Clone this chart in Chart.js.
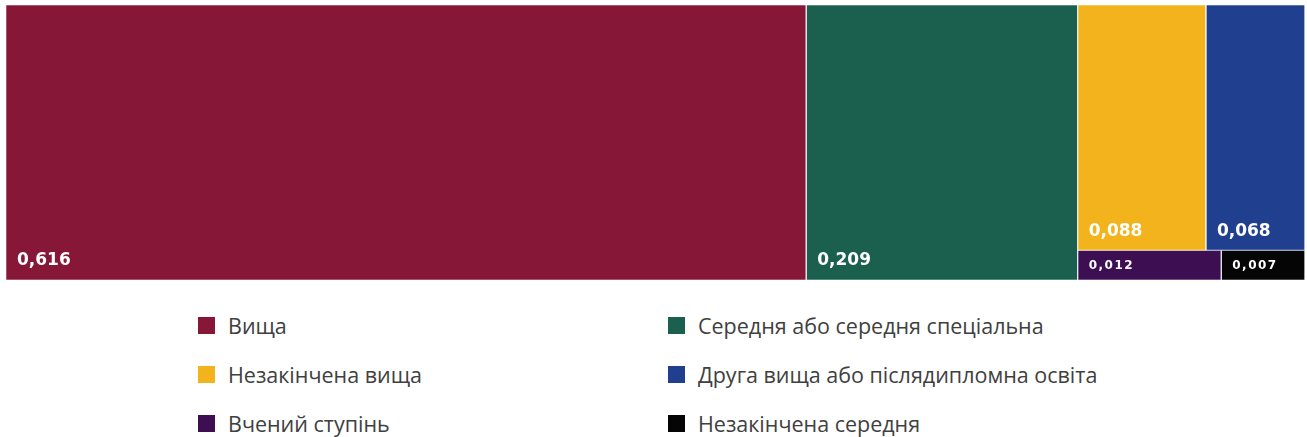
<!DOCTYPE html>
<html>
<head>
<meta charset="utf-8">
<script src="https://cdn.jsdelivr.net/npm/chart.js@4/dist/chart.umd.min.js"></script>
<style>
  html, body { margin: 0; padding: 0; background: #fff; }
  #wrap { position: relative; width: 1307px; height: 290px; }
  #legend {
    position: absolute; left: 198px; top: 301px;
    display: grid; grid-template-columns: 470px 470px; grid-auto-rows: 49px;
    font-family: "Open Sans", sans-serif; font-size: 21.5px; color: #404040;
  }
  .item { display: flex; align-items: center; }
  .box { width: 17px; height: 17px; margin-right: 13px; flex: none; }
</style>
</head>
<body>
<div id="wrap"><canvas id="c"></canvas></div>
<div id="legend"></div>
<script>
// частки за рівнем освіти
const labels = ['Вища', 'Середня або середня спеціальна', 'Незакінчена вища',
  'Друга вища або післядипломна освіта', 'Вчений ступінь', 'Незакінчена середня'];
const values = [0.616, 0.209, 0.088, 0.068, 0.012, 0.007];
const colors = ['#861737', '#1b5f4f', '#f2b31c', '#213f8f', '#3d0e51', '#050505'];

// вкладеність клітинок: верхній рівень ділиться по x, далі по y, далі знову по x
const groups = [[0], [1], [[2, 3], [4, 5]]];

const sum = n => Array.isArray(n) ? n.reduce((a, c) => a + sum(c), 0) : values[n];

// прямокутники в одиницях осей (0..1)
const rects = [];
function layout(node, x0, x1, y0, y1, horiz) {
  if (!Array.isArray(node)) { rects[node] = { x0, x1, y0, y1 }; return; }
  const tot = sum(node);
  let pos = horiz ? x0 : y1;
  node.forEach(ch => {
    const f = sum(ch) / tot;
    if (horiz) {
      const w = (x1 - x0) * f;
      layout(ch, pos, pos + w, y0, y1, false); pos += w;
    } else {
      const h = (y1 - y0) * f;
      layout(ch, x0, x1, pos - h, pos, true); pos -= h;
    }
  });
}
layout(groups, 0, 1, 0, 1, true);

const datasets = values.map((v, i) => {
  const r = rects[i];
  return {
    label: labels[i],
    data: [{ x: r.x0, y: r.y0 }, { x: r.x0, y: r.y1 }, { x: r.x1, y: r.y1 }, { x: r.x1, y: r.y0 }, { x: r.x0, y: r.y0 }],
    showLine: true, fill: 'shape', tension: 0,
    backgroundColor: colors[i], borderColor: 'rgba(255,255,255,0.55)', borderWidth: 1,
    pointRadius: 0, pointHoverRadius: 0,
  };
});

const valueLabels = {
  id: 'valueLabels',
  afterDatasetsDraw(chart) {
    const { ctx, scales: { x, y } } = chart;
    ctx.save();
    ctx.fillStyle = '#fff';
    ctx.textBaseline = 'middle';
    values.forEach((v, i) => {
      const r = rects[i];
      const left = x.getPixelForValue(r.x0), bottom = y.getPixelForValue(r.y0), top = y.getPixelForValue(r.y1);
      const h = bottom - top;
      const small = h < 40;
      ctx.font = (small ? 'bold 12px' : 'bold 17px') + ' "DejaVu Sans", sans-serif';
      ctx.letterSpacing = small ? '1.5px' : '0px';
      const txt = v.toFixed(3).replace('.', ',');
      ctx.fillText(txt, left + 11, small ? bottom - h / 2 + 1 : bottom - 19);
    });
    ctx.restore();
  }
};

new Chart(document.getElementById('c'), {
  type: 'scatter',
  data: { datasets },
  options: {
    responsive: true, maintainAspectRatio: false, animation: false,
    layout: { padding: { left: 6, right: 2, top: 5, bottom: 10 } },
    plugins: { legend: { display: false }, tooltip: { enabled: false } },
    scales: {
      x: { type: 'linear', min: 0, max: 1, display: false },
      y: { type: 'linear', min: 0, max: 1, display: false },
    },
  },
  plugins: [valueLabels],
});

// легенда: два стовпці
const lg = document.getElementById('legend');
labels.forEach((l, i) => {
  const it = document.createElement('div');
  it.className = 'item';
  it.innerHTML = '<span class="box" style="background:' + colors[i] + '"></span><span>' + l + '</span>';
  lg.appendChild(it);
});
</script>
</body>
</html>
